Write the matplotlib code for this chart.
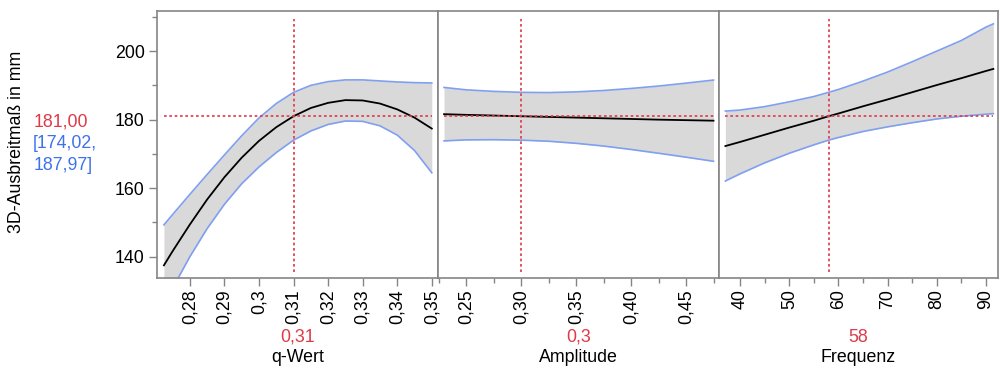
import matplotlib
matplotlib.use("Agg")
import matplotlib.pyplot as plt
from matplotlib.ticker import FixedLocator

plt.rcParams['font.family'] = ['Liberation Sans', 'DejaVu Sans']

# Prediction profiler: 3D-Ausbreitmaß vs. factors, mean and confidence band
current_value = 181.00
ci_low, ci_high = 174.02, 187.97

# q-Wert
q_x = [0.2725, 0.275, 0.28, 0.285, 0.29, 0.295, 0.30, 0.305, 0.31, 0.315,
       0.32, 0.325, 0.33, 0.335, 0.34, 0.345, 0.35]
q_mean = [137.5, 141.6, 149.4, 156.7, 163.2, 168.9, 173.8, 177.8, 181.0, 183.4,
          184.9, 185.7, 185.6, 184.7, 183.0, 180.6, 177.4]
q_upper = [149.3, 152.3, 158.2, 164.0, 169.7, 175.3, 180.5, 184.7, 187.97, 190.0,
           191.1, 191.6, 191.6, 191.3, 191.0, 190.8, 190.7]
q_lower = [126.5, 130.8, 140.0, 148.2, 155.3, 161.3, 166.2, 170.4, 174.02, 176.7,
           178.6, 179.6, 179.5, 178.2, 175.5, 171.0, 164.5]
q_ticks = [0.28, 0.29, 0.30, 0.31, 0.32, 0.33, 0.34, 0.35]
q_ticklabels = ["0,28", "0,29", "0,3", "0,31", "0,32", "0,33", "0,34", "0,35"]
q_setting = 0.31
q_setting_label = "0,31"

# Amplitude
a_x = [0.23, 0.25, 0.275, 0.30, 0.325, 0.35, 0.375, 0.40, 0.425, 0.45, 0.475]
a_mean = [181.6, 181.4, 181.2, 181.0, 180.8, 180.6, 180.4, 180.2, 180.0, 179.85, 179.7]
a_upper = [189.4, 188.7, 188.25, 187.97, 187.9, 188.1, 188.5, 189.1, 189.8, 190.65, 191.55]
a_lower = [173.8, 174.1, 174.15, 174.02, 173.7, 173.1, 172.3, 171.3, 170.2, 169.05, 167.85]
a_ticks = [0.25, 0.30, 0.35, 0.40, 0.45]
a_ticklabels = ["0,25", "0,30", "0,35", "0,40", "0,45"]
a_minor = [0.225, 0.275, 0.325, 0.375, 0.425, 0.475]
a_setting = 0.30
a_setting_label = "0,3"

# Frequenz
f_x = [37, 40, 45, 50, 55, 58, 60, 65, 70, 75, 80, 85, 90, 91.5]
f_mean = [172.3, 173.5, 175.6, 177.7, 179.7, 181.0, 181.8, 183.9, 185.9, 188.0,
          190.1, 192.1, 194.2, 194.8]
f_upper = [182.5, 182.8, 183.8, 185.2, 186.75, 187.97, 188.8, 191.25, 193.9, 196.9,
           200.0, 203.1, 207.0, 207.95]
f_lower = [162.1, 164.2, 167.4, 170.2, 172.65, 174.02, 174.8, 176.55, 177.9, 179.1,
           180.2, 181.0, 181.6, 181.75]
f_ticks = [40, 50, 60, 70, 80, 90]
f_ticklabels = ["40", "50", "60", "70", "80", "90"]
f_minor = [35, 45, 55, 65, 75, 85]
f_setting = 58
f_setting_label = "58"

y_ticks = [140, 160, 180, 200]
y_minor = [150, 170, 190, 210]

panels = [
    dict(x=q_x, mean=q_mean, up=q_upper, lo=q_lower, ticks=q_ticks, labels=q_ticklabels,
         minor=[], xlim=(0.2705, 0.3518), setting=q_setting, slabel=q_setting_label,
         title="q-Wert"),
    dict(x=a_x, mean=a_mean, up=a_upper, lo=a_lower, ticks=a_ticks, labels=a_ticklabels,
         minor=a_minor, xlim=(0.2245, 0.4800), setting=a_setting, slabel=a_setting_label,
         title="Amplitude"),
    dict(x=f_x, mean=f_mean, up=f_upper, lo=f_lower, ticks=f_ticks, labels=f_ticklabels,
         minor=f_minor, xlim=(35.7, 92.45), setting=f_setting, slabel=f_setting_label,
         title="Frequenz"),
]

W, H = 1000, 368
fig = plt.figure(figsize=(W / 100, H / 100), dpi=100)

edges = [157, 438, 719, 998]
top_px, bot_px = 11, 278
ylim = (133.8, 211.7)

RED = "#de3a48"
BLUE_LINE = "#7f9ff0"
BLUE_TXT = "#3f72ea"
FILL = "#d9d9d9"
SPINE = "#858585"
FS = 12.8
DOT = (0, (1.6, 1.6))

for i, p in enumerate(panels):
    l, r = edges[i], edges[i + 1]
    ax = fig.add_axes([l / W, 1 - bot_px / H, (r - l) / W, (bot_px - top_px) / H])
    ax.set_xlim(*p["xlim"])
    ax.set_ylim(*ylim)

    ax.fill_between(p["x"], p["lo"], p["up"], color=FILL, lw=0, zorder=1)
    ax.plot(p["x"], p["up"], color=BLUE_LINE, lw=1.2, zorder=2, solid_joinstyle="round")
    ax.plot(p["x"], p["lo"], color=BLUE_LINE, lw=1.2, zorder=2, solid_joinstyle="round")
    ax.plot(p["x"], p["mean"], color="black", lw=1.3, zorder=3, solid_joinstyle="round")

    ax.plot([p["x"][0], p["x"][-1]], [current_value, current_value], color=RED,
            lw=1.2, ls=DOT, zorder=4)
    ax.plot([p["setting"], p["setting"]], [135.5, 209.3], color=RED,
            lw=1.2, ls=DOT, zorder=4)

    for s in ax.spines.values():
        s.set_color(SPINE)
        s.set_linewidth(1.2)

    ax.xaxis.set_major_locator(FixedLocator(p["ticks"]))
    ax.set_xticklabels(p["labels"], rotation=90, fontsize=FS)
    if p["minor"]:
        ax.xaxis.set_minor_locator(FixedLocator(p["minor"]))
    ax.tick_params(axis="x", which="major", length=6, width=1, color=SPINE, pad=2)
    ax.tick_params(axis="x", which="minor", length=3.5, width=1, color=SPINE)

    if i == 0:
        ax.yaxis.set_major_locator(FixedLocator(y_ticks))
        ax.yaxis.set_minor_locator(FixedLocator(y_minor))
        ax.set_yticklabels([str(v) for v in y_ticks], fontsize=FS)
        ax.tick_params(axis="y", which="major", length=6, width=1, color=SPINE, pad=3)
        ax.tick_params(axis="y", which="minor", length=3.5, width=1, color=SPINE)
    else:
        ax.set_yticks([])
        ax.yaxis.set_minor_locator(FixedLocator([]))

    cx = (l + r) / 2 / W
    fig.text(cx, 1 - 337 / H, p["slabel"], color=RED, fontsize=FS, ha="center", va="center")
    fig.text(cx, 1 - 358 / H, p["title"], color="black", fontsize=FS, ha="center", va="center")

fig.text(17 / W, 1 - 142 / H, "3D-Ausbreitmaß in mm", rotation=90, fontsize=FS,
         ha="center", va="center")
fig.text(34 / W, 1 - 122 / H, f"{current_value:.2f}".replace(".", ","), color=RED,
         fontsize=FS, ha="left", va="center")
fig.text(33 / W, 1 - 144 / H, "[" + f"{ci_low:.2f}".replace(".", ",") + ",", color=BLUE_TXT,
         fontsize=FS, ha="left", va="center")
fig.text(34 / W, 1 - 166 / H, f"{ci_high:.2f}".replace(".", ",") + "]", color=BLUE_TXT,
         fontsize=FS, ha="left", va="center")

fig.savefig("out.png", dpi=100)
